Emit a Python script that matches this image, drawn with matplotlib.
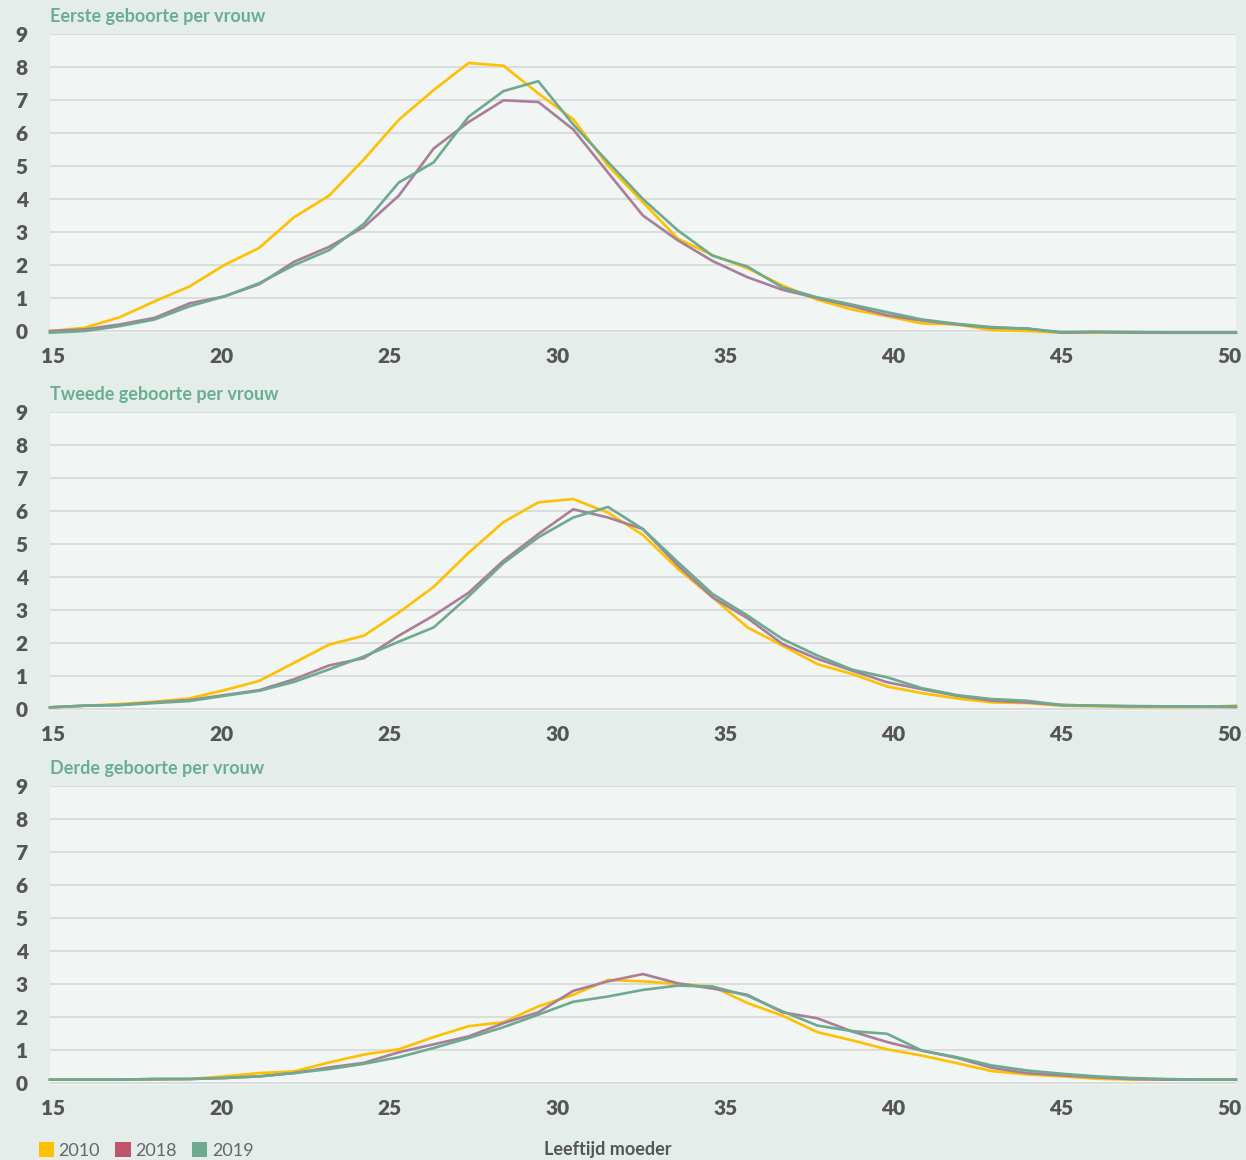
import numpy as np
import matplotlib.pyplot as plt
from matplotlib.patches import Patch

plt.rcParams['font.family'] = ['Lato', 'DejaVu Sans']

# leeftijd moeder (15 t/m 49)
ages = np.arange(15, 50)
tick_labels = ['15', '20', '25', '30', '35', '40', '45', '50']
years = ['2010', '2018', '2019']

# Eerste geboorte per vrouw
first_2010 = [0.0, 0.1, 0.42, 0.9, 1.35, 2.0, 2.52, 3.45, 4.1, 5.2, 6.4, 7.3, 8.12, 8.04,
              7.2, 6.42, 5.01, 3.9, 2.8, 2.3, 1.9, 1.38, 0.95, 0.65, 0.45, 0.23, 0.2, 0.03,
              0.0, -0.05, -0.05, -0.03, -0.05, -0.05, -0.05]
first_2018 = [0.0, 0.05, 0.2, 0.4, 0.84, 1.05, 1.42, 2.1, 2.55, 3.15, 4.1, 5.53, 6.33, 6.99,
              6.94, 6.11, 4.8, 3.5, 2.75, 2.12, 1.63, 1.25, 1.0, 0.75, 0.48, 0.32, 0.2, 0.1,
              0.08, -0.05, -0.03, -0.05, -0.05, -0.05, -0.05]
first_2019 = [-0.05, 0.0, 0.15, 0.35, 0.75, 1.05, 1.45, 2.0, 2.45, 3.25, 4.5, 5.11, 6.49, 7.27,
              7.57, 6.26, 5.12, 4.0, 3.05, 2.28, 1.95, 1.32, 1.02, 0.8, 0.57, 0.35, 0.22, 0.12,
              0.07, -0.03, -0.02, -0.03, -0.04, -0.04, -0.04]

# Tweede geboorte per vrouw
second_2010 = [0.05, 0.1, 0.15, 0.22, 0.32, 0.57, 0.85, 1.4, 1.95, 2.22, 2.92, 3.7, 4.73, 5.66,
               6.26, 6.36, 5.95, 5.27, 4.25, 3.38, 2.47, 1.92, 1.36, 1.06, 0.68, 0.48, 0.32, 0.2,
               0.18, 0.1, 0.08, 0.06, 0.06, 0.06, 0.1]
second_2018 = [0.05, 0.1, 0.12, 0.2, 0.27, 0.42, 0.57, 0.9, 1.32, 1.54, 2.22, 2.83, 3.52, 4.49,
               5.3, 6.05, 5.8, 5.45, 4.35, 3.38, 2.75, 1.97, 1.52, 1.16, 0.81, 0.6, 0.4, 0.25,
               0.2, 0.12, 0.1, 0.08, 0.08, 0.07, 0.06]
second_2019 = [0.05, 0.1, 0.12, 0.18, 0.24, 0.4, 0.55, 0.82, 1.2, 1.59, 2.04, 2.47, 3.41, 4.42,
               5.2, 5.8, 6.12, 5.45, 4.45, 3.48, 2.83, 2.12, 1.62, 1.19, 0.96, 0.63, 0.42, 0.3,
               0.25, 0.12, 0.1, 0.09, 0.08, 0.07, 0.08]

# Derde geboorte per vrouw
third_2010 = [0.1, 0.1, 0.1, 0.1, 0.12, 0.2, 0.3, 0.35, 0.62, 0.86, 1.02, 1.39, 1.72, 1.84,
              2.32, 2.67, 3.12, 3.08, 3.0, 2.92, 2.42, 2.04, 1.54, 1.29, 1.02, 0.83, 0.6, 0.36,
              0.26, 0.2, 0.13, 0.1, 0.1, 0.1, 0.1]
third_2018 = [0.1, 0.1, 0.1, 0.12, 0.12, 0.15, 0.2, 0.3, 0.47, 0.61, 0.93, 1.17, 1.41, 1.81,
              2.14, 2.79, 3.08, 3.3, 3.02, 2.86, 2.67, 2.14, 1.96, 1.56, 1.24, 0.98, 0.76, 0.46,
              0.3, 0.23, 0.17, 0.12, 0.1, 0.1, 0.1]
third_2019 = [0.1, 0.1, 0.1, 0.12, 0.12, 0.15, 0.2, 0.3, 0.42, 0.58, 0.78, 1.06, 1.36, 1.69,
              2.07, 2.46, 2.62, 2.82, 2.95, 2.92, 2.64, 2.17, 1.74, 1.57, 1.49, 0.98, 0.78, 0.53,
              0.38, 0.28, 0.2, 0.15, 0.12, 0.1, 0.1]

titles = ['Eerste geboorte per vrouw', 'Tweede geboorte per vrouw', 'Derde geboorte per vrouw']
panels = [
    [first_2010, first_2018, first_2019],
    [second_2010, second_2018, second_2019],
    [third_2010, third_2018, third_2019],
]

line_colors = ['#FFC000', '#A97E9B', '#6DAA8F']
swatch_colors = ['#FFC000', '#C0546B', '#6DAA8F']
fig_bg = '#E4EDE9'
plot_bg = '#F1F5F3'
title_green = '#6AAE91'
label_gray = '#555555'

fig = plt.figure(figsize=(12.46, 11.6), dpi=100)
fig.patch.set_facecolor(fig_bg)

bottoms = [0.7129, 0.3871, 0.0647]
# tick labels sit a little off the data grid, as in the source chart
tick_pos = 15.1 + np.arange(len(tick_labels)) * 5 * 0.963

for k, (series, title) in enumerate(zip(panels, titles)):
    ax = fig.add_axes([0.0401, bottoms[k], 0.9518, 0.2578])
    ax.set_facecolor(plot_bg)
    for vals, c in zip(series, line_colors):
        ax.plot(ages, vals, color=c, lw=1.9, solid_joinstyle='miter', clip_on=False, zorder=3)
    ax.set_xlim(15, 49)
    ax.set_ylim(-0.06, 9)
    ax.set_yticks(range(0, 10))
    ax.set_xticks(tick_pos)
    ax.set_xticklabels(tick_labels)
    ax.grid(axis='y', color='#D8DBD9', lw=1.3)
    ax.set_axisbelow(True)
    for s in ax.spines.values():
        s.set_visible(False)
    ax.tick_params(length=0)
    ax.tick_params(axis='y', pad=16, labelsize=15, labelcolor=label_gray)
    ax.tick_params(axis='x', pad=10, labelsize=15, labelcolor=label_gray)
    for t in ax.get_xticklabels() + ax.get_yticklabels():
        t.set_fontweight('heavy')
    ax.text(0.0, 1.0 + 17 / 299, title, transform=ax.transAxes, ha='left', va='center',
            fontsize=13, fontweight='bold', color=title_green)

handles = [Patch(facecolor=c, edgecolor='none', label=y) for c, y in zip(swatch_colors, years)]
fig.legend(handles=handles, loc='lower left', bbox_to_anchor=(0.018, -0.013), ncol=3,
           frameon=False, handlelength=0.85, handleheight=0.85, handletextpad=0.25,
           columnspacing=0.85, labelcolor='#666666', prop={'size': 13})
fig.text(0.488, 1 - 1150 / 1160, 'Leeftijd moeder', ha='center', va='center',
         fontsize=13, fontweight='bold', color='#555555')

fig.savefig('out.png', dpi=100, facecolor=fig_bg)
